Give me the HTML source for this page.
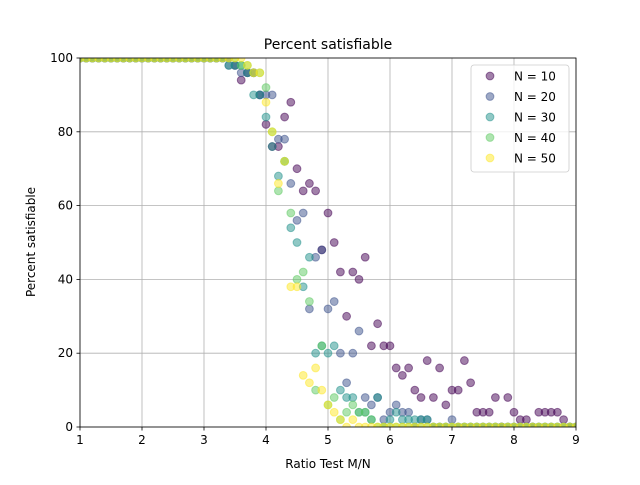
<!DOCTYPE html>
<html><head><meta charset="utf-8"><style>
body{margin:0;background:#fff;font-family:"Liberation Sans","DejaVu Sans",sans-serif}
svg text{font-family:"DejaVu Sans","Liberation Sans",sans-serif}
</style></head><body>
<svg id="chart" width="640" height="480">
<defs><clipPath id="plotclip"><rect x="80" y="58" width="496" height="369"/></clipPath></defs>
<rect width="640" height="480" fill="#fff"/>
<g id="grid"></g><g id="marks" clip-path="url(#plotclip)"></g><g id="axes"></g>
<text x="328" y="49" text-anchor="middle" font-size="14">Percent satisfiable</text>
<text x="328" y="468" text-anchor="middle" font-size="12">Ratio Test M/N</text>
<text x="0" y="0" transform="translate(35,242) rotate(-90)" text-anchor="middle" font-size="12">Percent satisfiable</text>
<g id="legend"></g>
</svg>
<script>
const xTicks=[1,2,3,4,5,6,7,8,9];
const yTicks=[0,20,40,60,80,100];
const seriesNames=["N = 10","N = 20","N = 30","N = 40","N = 50"];
const xValues=[1.0,1.1,1.2,1.3,1.4,1.5,1.6,1.7,1.8,1.9,2.0,2.1,2.2,2.3,2.4,2.5,2.6,2.7,2.8,2.9,3.0,3.1,3.2,3.3,3.4,3.5,3.6,3.7,3.8,3.9,4.0,4.1,4.2,4.3,4.4,4.5,4.6,4.7,4.8,4.9,5.0,5.1,5.2,5.3,5.4,5.5,5.6,5.7,5.8,5.9,6.0,6.1,6.2,6.3,6.4,6.5,6.6,6.7,6.8,6.9,7.0,7.1,7.2,7.3,7.4,7.5,7.6,7.7,7.8,7.9,8.0,8.1,8.2,8.3,8.4,8.5,8.6,8.7,8.8,8.9,9.0];
const n10=[100,100,100,100,100,100,100,100,100,100,100,100,100,100,100,100,100,100,100,100,100,100,100,100,100,98,94,96,96,90,82,76,76,84,88,70,64,66,64,48,58,50,42,30,42,40,46,22,28,22,22,16,14,16,10,8,18,8,16,6,10,10,18,12,4,4,4,8,0,8,4,2,2,0,4,4,4,4,2,0,0];
const n20=[100,100,100,100,100,100,100,100,100,100,100,100,100,100,100,100,100,100,100,100,100,100,100,100,98,98,96,96,96,90,90,90,78,78,66,56,58,32,46,48,32,34,20,12,20,26,8,6,8,2,4,6,4,4,0,2,2,0,0,0,2,0,0,0,0,0,0,0,0,0,0,0,0,0,0,0,0,0,0,0,0];
const n30=[100,100,100,100,100,100,100,100,100,100,100,100,100,100,100,100,100,100,100,100,100,100,100,100,98,98,98,96,90,90,84,76,68,72,54,50,38,46,20,22,20,22,10,8,8,4,4,2,8,0,2,4,2,2,2,2,2,0,0,0,0,0,0,0,0,0,0,0,0,0,0,0,0,0,0,0,0,0,0,0,0];
const n40=[100,100,100,100,100,100,100,100,100,100,100,100,100,100,100,100,100,100,100,100,100,100,100,100,100,100,98,98,96,96,92,80,64,72,58,40,42,34,10,22,6,8,2,4,6,4,4,2,0,0,0,0,0,0,0,0,0,0,0,0,0,0,0,0,0,0,0,0,0,0,0,0,0,0,0,0,0,0,0,0,0];
const n50=[100,100,100,100,100,100,100,100,100,100,100,100,100,100,100,100,100,100,100,100,100,100,100,100,100,100,100,98,96,96,88,80,66,72,38,38,14,12,16,10,6,4,2,0,2,0,0,0,0,0,0,0,0,0,0,0,0,0,0,0,0,0,0,0,0,0,0,0,0,0,0,0,0,0,0,0,0,0,0,0,0];
const colors=["#440154","#3b528b","#21918c","#5ec962","#fde725"];
const series=[n10,n20,n30,n40,n50];
const X0=80,X1=576,Y0=427,Y1=58;
const sx=v=>X0+(v-1)/8*(X1-X0);
const sy=v=>Y0-v/100*(Y0-Y1);
const NS="http://www.w3.org/2000/svg";
function mk(tag,attrs,parent){const e=document.createElementNS(NS,tag);for(const k in attrs)e.setAttribute(k,attrs[k]);parent.appendChild(e);return e;}
const grid=document.getElementById('grid'),axes=document.getElementById('axes'),marks=document.getElementById('marks'),legend=document.getElementById('legend');
xTicks.forEach(t=>{
  const l=mk('line',{x1:sx(t),x2:sx(t),y1:Y0,y2:Y1,stroke:'#b0b0b0','stroke-width':0.8},grid);
  
  
  mk('line',{x1:sx(t),x2:sx(t),y1:Y0,y2:Y0+3.5,stroke:'#000','stroke-width':0.8},axes);
  const tx=mk('text',{x:sx(t),y:Y0+17,'text-anchor':'middle','font-size':12},axes);tx.textContent=t;
  
  
});
yTicks.forEach(t=>{
  const l=mk('line',{x1:X0,x2:X1,y1:sy(t),y2:sy(t),stroke:'#b0b0b0','stroke-width':0.8},grid);
  
  
  mk('line',{x1:X0-3.5,x2:X0,y1:sy(t),y2:sy(t),stroke:'#000','stroke-width':0.8},axes);
  const tx=mk('text',{x:X0-7,y:sy(t)+4,'text-anchor':'end','font-size':12},axes);tx.textContent=t;
  
  
});
const frame=mk('rect',{x:X0,y:Y1,width:X1-X0,height:Y0-Y1,fill:'none',stroke:'#000','stroke-width':0.8},axes);


series.forEach((s,i)=>{
  s.forEach((v,j)=>{
    const c=mk('circle',{cx:sx(xValues[j]),cy:sy(v),r:3.9,fill:colors[i],'fill-opacity':0.5,stroke:colors[i],'stroke-opacity':0.5,'stroke-width':1},marks);
    
    
  });
});
const lb=mk('rect',{x:471,y:65,width:98,height:107,rx:3,fill:'#fff','fill-opacity':0.8,stroke:'#ccc','stroke-width':0.8},legend);


seriesNames.forEach((n,i)=>{
  const y=76+i*20.5;
  const c=mk('circle',{cx:490,cy:y,r:3.9,fill:colors[i],'fill-opacity':0.5,stroke:colors[i],'stroke-opacity':0.5},legend);
  
  
  const t=mk('text',{x:514,y:y+4.5,'font-size':12},legend);t.textContent=n;
  
  
});
</script>
</body></html>
